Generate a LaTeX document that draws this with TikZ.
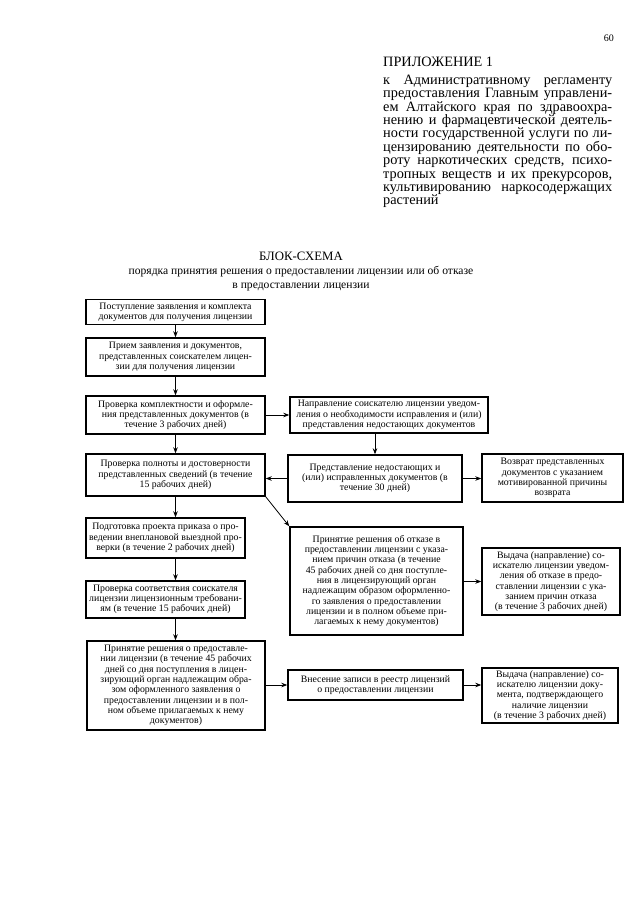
\documentclass[tikz,border=0pt]{standalone}
\usepackage{fontspec}
\setmainfont{Liberation Serif}
\usetikzlibrary{arrows.meta}
\begin{document}
\begin{tikzpicture}[x=1pt,y=-1pt,
  box/.style={draw, line width=1.4pt, align=center, inner sep=0pt, font=\fontsize{9.8}{10.3}\selectfont},
  arr/.style={-{Stealth[length=6pt,width=4.5pt]}, line width=0.8pt},
  hdr/.style={inner sep=0pt, font=\fontsize{14.3}{13.2}\selectfont},
  ttl/.style={inner sep=0pt, anchor=base, font=\fontsize{11.6}{14}\selectfont}
]
\useasboundingbox[fill=white] (0,0) rectangle (640,905);

% header
\node[anchor=base east, inner sep=0pt, font=\fontsize{10}{12}\selectfont] (pg) at (614,41) {60};
\node[hdr, anchor=base west] (app) at (383,66) {ПРИЛОЖЕНИЕ 1};
\node[hdr, anchor=north west, align=left] (par) at (383,75) {%
\makebox[229pt][s]{к Административному регламенту}\\
\makebox[229pt][s]{предоставления Главным управлени-}\\
\makebox[229pt][s]{ем Алтайского края по здравоохра-}\\
\makebox[229pt][s]{нению и фармацевтической деятель-}\\
\makebox[229pt][s]{ности государственной услуги по ли-}\\
\makebox[229pt][s]{цензированию деятельности по обо-}\\
\makebox[229pt][s]{роту наркотических средств, психо-}\\
\makebox[229pt][s]{тропных веществ и их прекурсоров,}\\
\makebox[229pt][s]{культивированию\ \ наркосодержащих}\\
растений};

% title
\node[ttl, font=\fontsize{12.8}{14}\selectfont] (t1) at (301,260) {БЛОК-СХЕМА};
\node[ttl] (t2) at (301,274) {порядка принятия решения о предоставлении лицензии или об отказе};
\node[ttl] (t3) at (301,288) {в предоставлении лицензии};

% left column
\node[box, minimum width=179pt, minimum height=25pt] (b1) at (175.5,312) {Поступление заявления и комплекта\\документов для получения лицензии};
\node[box, minimum width=179pt, minimum height=38pt] (b2) at (175.5,357) {Прием заявления и документов,\\представленных соискателем лицен-\\зии для получения лицензии};
\node[box, minimum width=179pt, minimum height=38pt] (b3) at (175.5,415) {Проверка комплектности и оформле-\\ния представленных документов (в\\течение 3 рабочих дней)};
\node[box, minimum width=179pt, minimum height=42pt] (b4) at (175.5,475) {Проверка полноты и достоверности\\представленных сведений (в течение\\15 рабочих дней)};
\node[box, minimum width=159pt, minimum height=40pt] (b5) at (165.5,538) {Подготовка проекта приказа о про-\\ведении внеплановой выездной про-\\верки (в течение 2 рабочих дней)};
\node[box, minimum width=159pt, minimum height=37pt] (b6) at (165.5,599.5) {Проверка соответствия соискателя\\лицензии лицензионным требовани-\\ям (в течение 15 рабочих дней)};
\node[box, minimum width=178pt, minimum height=89pt] (b7) at (176,685.5) {Принятие решения о предоставле-\\нии лицензии (в течение 45 рабочих\\дней со дня поступления в лицен-\\зирующий орган надлежащим обра-\\зом оформленного заявления о\\предоставлении лицензии и в пол-\\ном объеме прилагаемых к нему\\документов)};

% middle column
\node[box, minimum width=198pt, minimum height=36pt] (b8) at (389,415) {Направление соискателю лицензии уведом-\\ления о необходимости исправления и (или)\\представления недостающих документов};
\node[box, minimum width=174pt, minimum height=47pt] (b9) at (375,478.5) {Представление недостающих и\\(или) исправленных документов (в\\течение 30 дней)};
\node[box, minimum width=173pt, minimum height=108pt] (b10) at (376.5,581) {Принятие решения об отказе в\\предоставлении лицензии с указа-\\нием причин отказа (в течение\\45 рабочих дней со дня поступле-\\ния в лицензирующий орган\\надлежащим образом оформленно-\\го заявления о предоставлении\\лицензии и в полном объеме при-\\лагаемых к нему документов)};
\node[box, minimum width=175pt, minimum height=30pt] (b11) at (375.5,685) {Внесение записи в реестр лицензий\\о предоставлении лицензии};

% right column
\node[box, minimum width=141pt, minimum height=48pt] (b12) at (552.5,478) {Возврат представленных\\документов с указанием\\мотивированной причины\\возврата};
\node[box, minimum width=138pt, minimum height=67pt] (b13) at (551,581.5) {Выдача (направление) со-\\искателю лицензии уведом-\\ления об отказе в предо-\\ставлении лицензии с ука-\\занием причин отказа\\(в течение 3 рабочих дней)};
\node[box, minimum width=136pt, minimum height=55pt] (b14) at (550,695.5) {Выдача (направление) со-\\искателю лицензии доку-\\мента, подтверждающего\\наличие лицензии\\(в течение 3 рабочих дней)};

% connectors
\draw[arr] (b1.south) -- (b2.north);
\draw[arr] (b2.south) -- (b3.north);
\draw[arr] (b3.south) -- (b4.north);
\draw[arr] (b4.south) -- (b4.south |- b5.north);
\draw[arr] (b5.south -| b4.south) -- (b6.north -| b4.south);
\draw[arr] (b6.south -| b4.south) -- (b7.north -| b4.south);
\draw[arr] (b3.east) -- (b8.west);
\draw[arr] (b8.south -| b9.north) -- (b9.north);
\draw[arr] (b9.west) -- (b9.west -| b4.east);
\draw[arr] (b9.east) -- (b9.east -| b12.west);
\draw[arr] (b4.south east) -- (b10.north west);
\draw[arr] (b10.east |- b13.west) -- (b13.west);
\draw[arr] (b7.east |- b11.west) -- (b11.west);
\draw[arr] (b11.east) -- (b11.east -| b14.west);
\end{tikzpicture}
\end{document}
